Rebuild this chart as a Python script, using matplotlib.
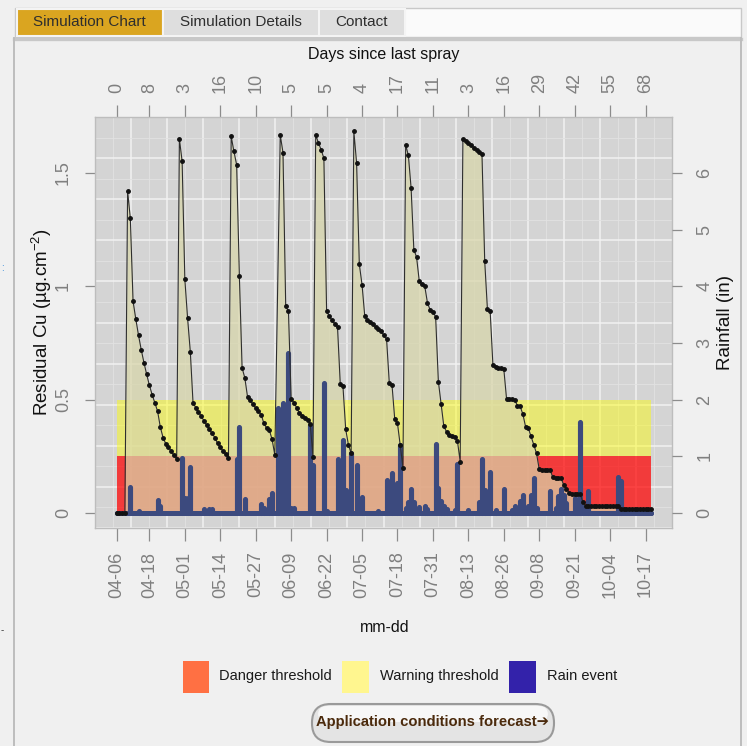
import numpy as np
import matplotlib
matplotlib.use("Agg")
import matplotlib.pyplot as plt
from matplotlib import font_manager
from matplotlib.patches import Rectangle, FancyBboxPatch

W, H = 747, 746

# ---- data ----
date_labels = ['04-06', '04-18', '05-01', '05-14', '05-27', '06-09', '06-22', '07-05',
               '07-18', '07-31', '08-13', '08-26', '09-08', '09-21', '10-04', '10-17']
spray_labels = ['0', '8', '3', '16', '10', '5', '5', '4', '17', '11', '3', '16', '29', '42', '55', '68']

# residual copper, one value per day from 04-06 (nan = no value)
residue = (
    [0, 0, 0, 0]
    + [1.42, 1.30, 0.934, 0.856, 0.784, 0.720, 0.663, 0.611, 0.563, 0.522, 0.486, 0.449,
       0.379, 0.333, 0.305, 0.290, 0.273, 0.254, 0.238]
    + [1.649, 1.552, 1.030, 0.860, 0.712, 0.486, 0.465, 0.446, 0.427, 0.407, 0.388, 0.369,
       0.351, 0.333, 0.307, 0.289, 0.274, 0.260, 0.242]
    + [1.661, 1.595, 1.536, 1.044, 0.640, 0.596, 0.512, 0.497, 0.479, 0.463, 0.448, 0.434,
       0.395, 0.375, 0.365, 0.325, 0.256]
    + [np.nan]
    + [1.667, 1.590, 0.912, 0.890, 0.505, 0.486, 0.465, 0.441, 0.430, 0.421, 0.412, 0.392, 0.247]
    + [1.667, 1.633, 1.602, 1.565, 0.890, 0.868, 0.850, 0.835, 0.821, 0.571, 0.559, 0.370,
       0.301, 0.263]
    + [1.683, 1.545, 1.097, 1.007, 0.868, 0.853, 0.843, 0.833, 0.821, 0.811, 0.802, 0.784,
       0.767, 0.573, 0.564, 0.413, 0.395, 0.300, 0.200]
    + [1.624, 1.577, 1.433, 1.162, 1.129, 1.022, 1.010, 1.001, 0.927, 0.895, 0.888, 0.865,
       0.580, 0.480, 0.383, 0.358, 0.345, 0.340, 0.336, 0.317, 0.227]
    + [1.651, 1.642, 1.632, 1.622, 1.612, 1.602, 1.592, 1.582, 1.111, 0.898, 0.891,
       0.654, 0.646, 0.641, 0.638, 0.636, 0.505, 0.503, 0.501, 0.498, 0.474, 0.470,
       0.436, 0.380, 0.374, 0.338, 0.301, 0.263, 0.193, 0.191, 0.190, 0.190, 0.189,
       0.157, 0.155, 0.155, 0.154, 0.123, 0.108, 0.087, 0.086, 0.086, 0.085, 0.085]
    + [0.048]
    + [0.032] * 13
    + [0.018] * 12
)

rain_days = [5, 8, 15, 16, 24, 25, 26, 27, 32, 34, 35, 44, 45, 47, 53, 54, 56, 57, 59, 61,
             63, 64, 65, 71, 72, 76, 77, 81, 83, 84, 85, 86, 88, 90, 96, 99, 101, 103, 104,
             106, 107, 108, 109, 111, 113, 114, 117, 118, 119, 120, 121, 124, 125, 129, 133,
             134, 135, 137, 139, 142, 145, 146, 147, 148, 149, 151, 152, 153, 154, 159, 161,
             162, 163, 164, 165, 168, 169, 170, 171, 173, 184, 185]
rain_in = [0.46, 0.04, 0.23, 0.13, 0.97, 0.27, 0.27, 0.82, 0.07, 0.07, 0.07, 0.96, 1.52, 0.25,
           0.16, 0.08, 0.25, 0.35, 1.85, 1.94, 2.82, 0.09, 0.08, 1.56, 0.85, 2.29, 0.04, 0.96,
           1.29, 0.40, 0.26, 1.05, 0.85, 0.29, 0.03, 0.58, 0.71, 0.53, 1.20, 0.08, 0.20, 0.42,
           0.20, 0.10, 0.13, 0.07, 1.22, 0.44, 0.22, 0.12, 0.07, 0.05, 0.87, 0.05, 0.20, 0.95,
           0.41, 0.73, 0.05, 0.43, 0.05, 0.12, 0.08, 0.22, 0.31, 0.12, 0.32, 0.61, 0.08, 0.38,
           0.08, 0.30, 0.42, 0.32, 0.18, 0.27, 0.15, 1.61, 0.10, 0.38, 0.64, 0.56]

danger_level = 0.25
warning_level = 0.5
rain_per_cu = 4  # 1 in of rain on the right axis = 0.25 on the left

legend_items = ['Danger threshold', 'Warning threshold', 'Rain event']
legend_colors = ['#FF7043', '#FFF68F', '#3322AA']
tab_names = ['Simulation Chart', 'Simulation Details', 'Contact']


def has_font(name):
    try:
        font_manager.findfont(font_manager.FontProperties(family=name), fallback_to_default=False)
        return True
    except Exception:
        return False


narrow = 'Liberation Sans Narrow' if has_font('Liberation Sans Narrow') else None
squeeze = 1 / 0.82 if narrow else 1.0
cond_family = [narrow or 'Liberation Sans', 'DejaVu Sans']

plt.rcParams['font.family'] = ['Liberation Sans', 'DejaVu Sans']
plt.rcParams['mathtext.fontset'] = 'custom'
plt.rcParams['mathtext.rm'] = 'Liberation Sans'
plt.rcParams['mathtext.it'] = 'Liberation Sans'


def fx(x):
    return x / W


def fy(y):
    return 1 - y / H


fig = plt.figure(figsize=(W / 100, H / 100), dpi=100, facecolor='#F0F0F0')

# page frame and tabs
fig.patches.append(Rectangle((fx(15), fy(37)), (741 - 15) / W, 29 / H, transform=fig.transFigure,
                             facecolor='#FAFAFA', edgecolor='#C8C8C8', lw=1))
tab_edges = [16.7, 163, 319, 405]
tab_colors = ['#DAA520', '#DEDEDE', '#DEDEDE']
for i, name in enumerate(tab_names):
    x0, x1 = tab_edges[i], tab_edges[i + 1]
    fig.patches.append(Rectangle((fx(x0), fy(36)), (x1 - x0) / W, 27 / H, transform=fig.transFigure,
                                 facecolor=tab_colors[i], edgecolor='#F4F4F4', lw=1.5))
    fig.text(fx((x0 + x1) / 2), fy(22), name, ha='center', va='center', color='#2E2E2E',
             fontsize=11 * squeeze, family=cond_family)
fig.add_artist(plt.Line2D([fx(14.5), fx(741)], [fy(38.5), fy(38.5)], color='#C8C8C8', lw=2.4))
fig.add_artist(plt.Line2D([fx(14.5), fx(14.5)], [fy(38), fy(746)], color='#BDBDBD', lw=1.4))
fig.add_artist(plt.Line2D([fx(741), fx(741)], [fy(38), fy(746)], color='#BDBDBD', lw=1.4))
fig.text(fx(1), fy(268), ':', color='#1E7FD8', fontsize=7, ha='left', va='center')
fig.text(fx(1), fy(630), '-', color='#333333', fontsize=7, ha='left', va='center')

# ---- plot panel ----
ax = fig.add_axes([fx(95), fy(528), (672 - 95) / W, (528 - 117) / H])
ax.set_facecolor('#D4D4D4')
for s in ax.spines.values():
    s.set_color('#BDBDBD')
    s.set_linewidth(1)

start = np.datetime64('2016-04-06')
tick_days = [int((np.datetime64('2016-' + d) - start).astype(int)) for d in date_labels]
days = np.arange(len(residue))
res = np.array(residue, dtype=float)

px_per_day = 2.726
px_per_cu = 226.7
ax.set_xlim((95 - 116.7) / px_per_day, (672 - 116.7) / px_per_day)
ax.set_ylim((513 - 528) / px_per_cu, (513 - 117) / px_per_cu)

ax2 = ax.twinx()
lo, hi = ax.get_ylim()
ax2.set_ylim(lo * rain_per_cu, hi * rain_per_cu)

# background grid (evenly spaced over the panel)
for j in range(32):
    f = j / 32
    major = j % 2 == 0
    ax.plot([f, f], [0, 1], transform=ax.transAxes, color='#F2F2F2' if major else '#E2E2E2',
            lw=1.1 if major else 0.6, zorder=0.5)
for k in range(20):
    f = k / 20
    major = k % 2 == 0
    ax.plot([0, 1], [f, f], transform=ax.transAxes, color='#F2F2F2' if major else '#E2E2E2',
            lw=1.1 if major else 0.6, zorder=0.5)

# threshold bands
ax.fill_between([days[0], days[-1]], 0, danger_level, color='#FF0000', alpha=0.72, lw=0, zorder=1)
ax.fill_between([days[0], days[-1]], danger_level, warning_level, color='#FFFF00', alpha=0.45,
                lw=0, zorder=1)

ok = ~np.isnan(res)
ax.fill_between(days[ok], 0, res[ok], color='#D8D6AA', alpha=0.72, lw=0, zorder=2)

# rain events
rain_col = '#3C4A7E'
vl = ax.vlines(rain_days, 0, rain_in, transform=ax2.transData, color=rain_col, lw=3.7, zorder=3)
vl.set_capstyle('round')
ax.plot([days[0], days[-1]], [0, 0], color=rain_col, lw=3.6, solid_capstyle='round', zorder=3)
ax.plot(days, np.zeros(len(days)), 'o', color=rain_col, ms=2.6, zorder=3)

# residual copper curve
ax.plot(days[ok], res[ok], color='#2E2E2E', lw=0.8, zorder=4)
ax.plot(days[ok], res[ok], 'o', color='#111111', ms=2.5, zorder=5)

# axes and ticks
tick_kw = dict(direction='out', width=0.9, color='#8C8C8C', labelcolor='#7F7F7F', labelsize=13)
ax.set_xticks(tick_days, date_labels, rotation=90)
ax.tick_params(axis='x', length=9, pad=8, **tick_kw)
ax.set_yticks([0, 0.5, 1, 1.5], ['0', '0.5', '1', '1.5'], rotation=90, va='center')
ax.tick_params(axis='y', length=7.5, pad=9, **tick_kw)
ax2.set_yticks(range(7), [str(v) for v in range(7)], rotation=90, va='center')
ax2.tick_params(axis='y', length=7.5, pad=10, **tick_kw)
for s in ax2.spines.values():
    s.set_visible(False)

top = ax.secondary_xaxis('top')
top.set_xticks(tick_days, spray_labels, rotation=90)
top.tick_params(length=9, pad=8, **tick_kw)
top.spines['top'].set_visible(False)

# titles
fig.text(fx(384), fy(55), 'Days since last spray', ha='center', va='center', fontsize=11.5,
         color='#111111')
fig.text(fx(385), fy(627), 'mm-dd', ha='center', va='center', fontsize=11.5, color='#111111')
fig.text(fx(42), fy(322), 'Residual Cu (µg.cm$^{-2}$)', rotation=90, ha='center', va='center',
         fontsize=13.5, color='#111111')
fig.text(fx(725), fy(322), 'Rainfall (in)', rotation=90, ha='center', va='center', fontsize=13.5,
         color='#111111')

# legend
sq_left = [182.5, 341.6, 508.8]
txt_left = [219, 379.7, 547]
for i, label in enumerate(legend_items):
    fig.patches.append(Rectangle((fx(sq_left[i]), fy(693)), 27 / W, 32 / H,
                                 transform=fig.transFigure, facecolor=legend_colors[i], lw=0))
    fig.text(fx(txt_left[i]), fy(676), label, ha='left', va='center', color='#1A1A1A',
             fontsize=10.5 * squeeze, family=cond_family)

# forecast button
fig.patches.append(FancyBboxPatch((fx(312), fy(742)), (554 - 312) / W, 38 / H,
                                  boxstyle='round,pad=0,rounding_size=0.025',
                                  transform=fig.transFigure, facecolor='#E4E4E4',
                                  edgecolor='#9A9A9A', lw=1.5))
fig.patches.append(FancyBboxPatch((fx(318), fy(722)), (548 - 318) / W, 16 / H,
                                  boxstyle='round,pad=0,rounding_size=0.012',
                                  transform=fig.transFigure, facecolor='#F7F7F7', lw=0))
fig.text(fx(433), fy(722), 'Application conditions forecast\u2794', ha='center', va='center',
         color='#4B2A0C', fontsize=10.6 * squeeze, fontweight='bold', family=cond_family)

fig.savefig('out.png', dpi=100, facecolor=fig.get_facecolor())
